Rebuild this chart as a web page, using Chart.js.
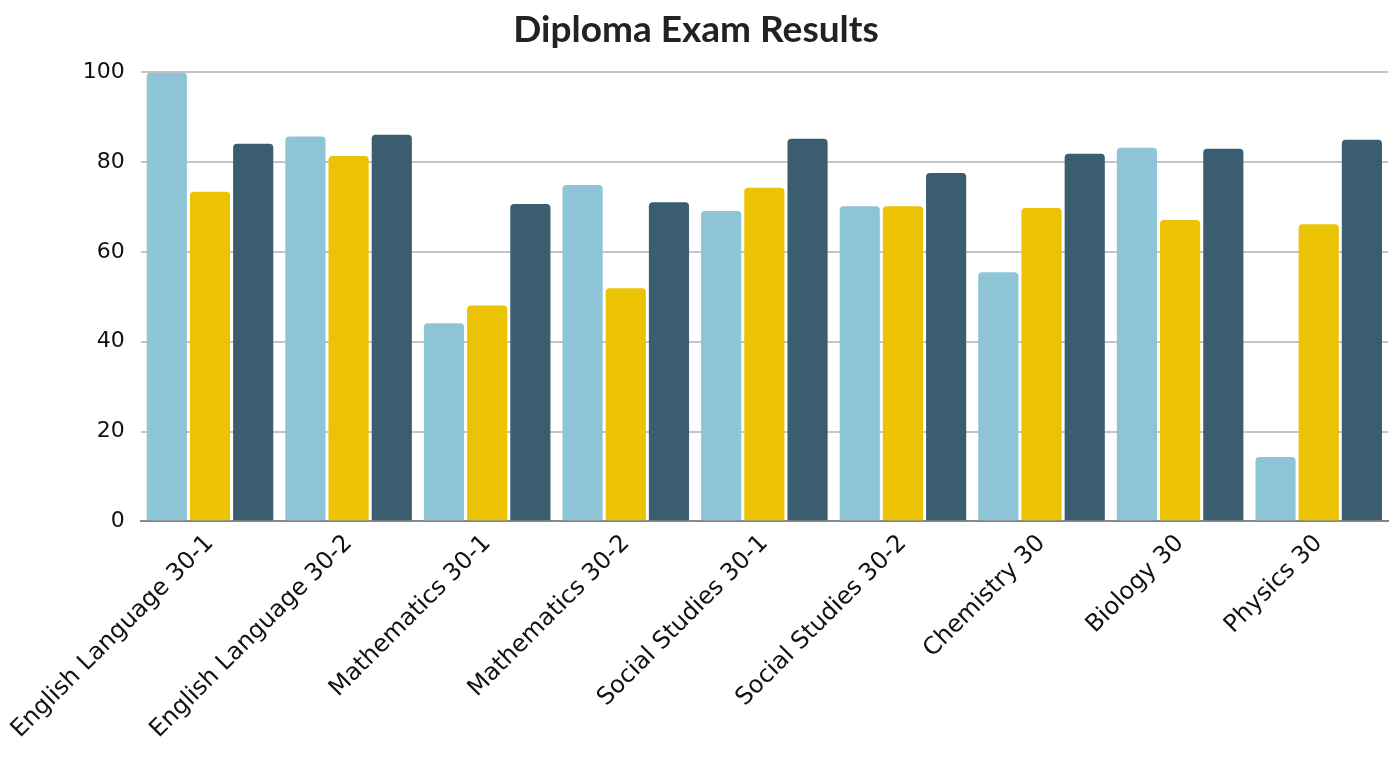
<!DOCTYPE html>
<html>
<head>
<meta charset="utf-8">
<script src="https://cdn.jsdelivr.net/npm/chart.js@4/dist/chart.umd.min.js"></script>
<style>
  html, body { margin: 0; padding: 0; background: #fff; }
  #wrap { width: 1395px; height: 757px; position: relative; }
</style>
</head>
<body>
<div id="wrap"><canvas id="chart"></canvas></div>
<script>
const categories = [
    'English Language 30-1', 'English Language 30-2', 'Mathematics 30-1',
    'Mathematics 30-2', 'Social Studies 30-1', 'Social Studies 30-2',
    'Chemistry 30', 'Biology 30', 'Physics 30'
];
// three series per subject
const seriesA = [100, 85.7, 44.1, 74.9, 69.1, 70.2, 55.5, 83.2, 14.3];
const seriesB = [73.4, 81.4, 48.1, 51.9, 74.3, 70.2, 69.8, 67.1, 66.2];
const seriesC = [84.1, 86.1, 70.7, 71.1, 85.2, 77.6, 81.9, 83.0, 85.0];

function bars(data, color) {
    return {
        data: data,
        backgroundColor: color,
        borderRadius: { topLeft: 4, topRight: 4 },
        borderSkipped: 'start',
        categoryPercentage: 0.935,
        barPercentage: 0.93
    };
}

new Chart(document.getElementById('chart'), {
    type: 'bar',
    data: {
        labels: categories,
        datasets: [
            bars(seriesA, '#8EC5D6'),
            bars(seriesB, '#ECC205'),
            bars(seriesC, '#3A5D70')
        ]
    },
    options: {
        responsive: true,
        maintainAspectRatio: false,
        animation: false,
        layout: { padding: { left: 4, right: 7, top: 0, bottom: 5 } },
        plugins: {
            legend: { display: false },
            tooltip: { enabled: false },
            title: {
                display: true,
                text: 'Diploma Exam Results',
                color: '#222',
                font: { family: 'Lato', size: 37, weight: 'bold' },
                padding: { top: 8, bottom: 20 }
            }
        },
        scales: {
            x: {
                grid: { display: false, drawTicks: false },
                border: { display: true, color: '#888', width: 2 },
                ticks: {
                    color: '#111',
                    font: { family: 'DejaVu Sans', size: 24 },
                    minRotation: 45,
                    maxRotation: 45,
                    padding: 8
                }
            },
            y: {
                min: 0,
                max: 100,
                afterFit: function (axis) { axis.width = 134; },
                grid: { color: '#c4c4c4', lineWidth: 2, drawTicks: false },
                border: { display: false },
                ticks: {
                    stepSize: 20,
                    color: '#111',
                    font: { family: 'DejaVu Sans', size: 22 },
                    padding: 16
                }
            }
        }
    }
});
</script>
</body>
</html>
